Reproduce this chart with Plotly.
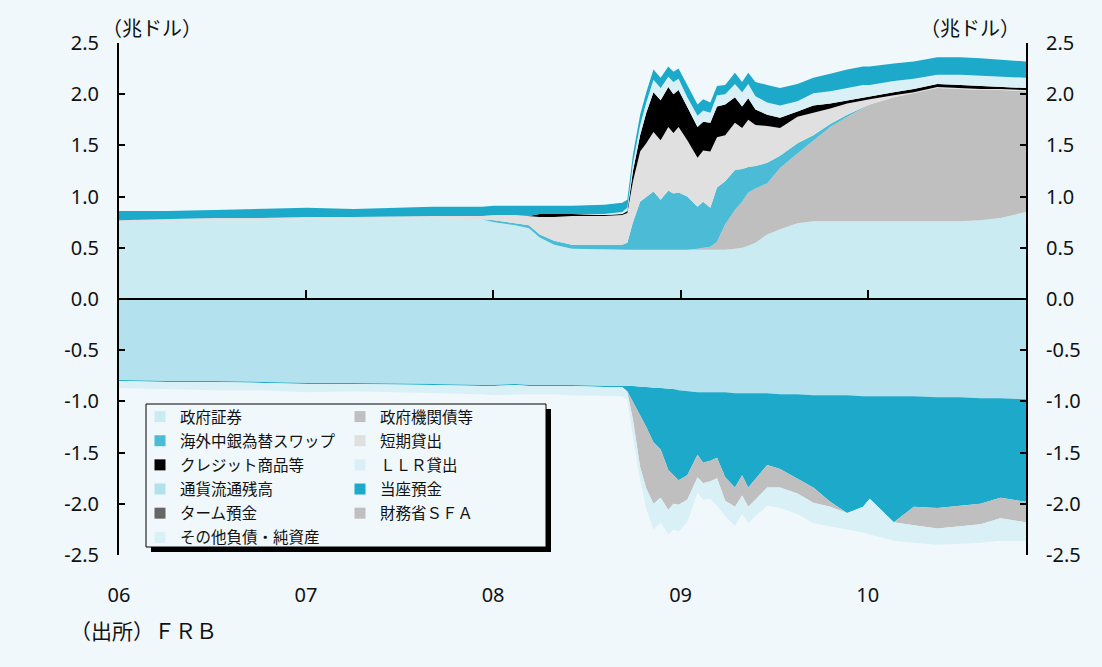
import plotly.graph_objects as go

# ---- data (兆ドル) ----
dates = [
    "2006-01-01", "2006-04-05", "2006-07-05", "2006-10-04", "2007-01-03",
    "2007-04-04", "2007-07-04", "2007-09-05", "2007-12-10", "2008-01-03",
    "2008-02-13", "2008-03-11", "2008-04-01", "2008-04-29", "2008-06-03",
    "2008-08-05", "2008-09-09", "2008-09-19", "2008-09-30", "2008-10-14",
    "2008-10-26", "2008-11-09", "2008-11-23", "2008-12-08", "2008-12-18",
    "2008-12-28", "2009-01-14", "2009-02-03", "2009-02-14", "2009-02-28",
    "2009-03-13", "2009-03-29", "2009-04-17", "2009-05-01", "2009-05-13",
    "2009-05-27", "2009-06-19", "2009-07-14", "2009-08-17", "2009-09-17",
    "2009-10-20", "2009-11-22", "2009-12-23", "2010-01-05", "2010-02-21",
    "2010-04-01", "2010-05-17", "2010-07-01", "2010-08-09", "2010-09-17",
    "2010-11-06",
]

# assets (stacked upward)
gov_securities = [
    .75, .76, .77, .77, .78, .78, .79, .79, .78, .75,
    .72, .69, .60, .53, .49, .48, .48, .48, .48, .48,
    .48, .48, .48, .48, .48, .48, .48, .48, .48, .48,
    .48, .48, .49, .50, .52, .55, .63, .68, .74, .76,
    .76, .76, .76, .76, .76, .76, .76, .76, .77, .79,
    .85,
]
agency_debt = [
    0, 0, 0, 0, 0, 0, 0, 0, 0, 0,
    0, 0, 0, 0, 0, 0, 0, 0, 0, 0,
    0, 0, 0, 0, 0, 0, 0, .01, .02, .03,
    .08, .25, .38, .45, .52, .53, .50, .60, .68, .79,
    .92, 1.02, 1.10, 1.14, 1.21, 1.25, 1.30, 1.29, 1.27, 1.25,
    1.18,
]
cb_swaps = [
    0, 0, 0, 0, 0, 0, 0, 0, 0, .02,
    .02, .03, .03, .04, .04, .05, .05, .07, .27, .47,
    .52, .57, .49, .58, .55, .56, .52, .41, .45, .38,
    .53, .42, .39, .32, .25, .22, .20, .12, .10, .05,
    .03, .02, .01, 0, 0, 0, 0, 0, 0, 0,
    0,
]
short_term_loans = [
    .02, .02, .02, .02, .02, .02, .02, .02, .03, .05,
    .08, .09, .17, .23, .28, .28, .29, .29, .40, .49,
    .52, .58, .58, .62, .59, .64, .55, .48, .50, .55,
    .49, .45, .46, .40, .46, .40, .36, .27, .26, .22,
    .15, .11, .07, .05, .02, .01, .01, .01, .01, .01,
    .01,
]
credit_facilities = [
    0, 0, 0, 0, 0, 0, 0, 0, 0, 0,
    0, 0, .03, .03, .02, .01, .01, .02, .10, .16,
    .30, .39, .39, .39, .38, .36, .32, .30, .28, .28,
    .30, .30, .25, .21, .21, .15, .11, .10, .05, .07,
    .05, .03, .03, .03, .03, .03, .03, .03, .03, .02,
    .02,
]
llr_loans = [
    0, 0, 0, 0, 0, 0, 0, 0, 0, 0,
    0, 0, 0, 0, 0, .01, .02, .03, .08, .10,
    .10, .12, .12, .10, .12, .11, .10, .11, .11, .10,
    .11, .10, .13, .14, .14, .13, .12, .12, .10, .12,
    .12, .12, .12, .11, .11, .10, .09, .10, .10, .10,
    .10,
]
other_assets = [
    .09, .08, .08, .09, .09, .08, .08, .09, .09, .09,
    .09, .10, .08, .08, .08, .09, .09, .08, .08, .10,
    .10, .10, .10, .10, .10, .10, .12, .11, .11, .10,
    .09, .09, .11, .10, .11, .14, .17, .17, .17, .15,
    .17, .18, .18, .18, .17, .17, .17, .17, .17, .17,
    .16,
]

# liabilities (stacked downward)
currency = [
    -.79, -.80, -.80, -.81, -.82, -.82, -.83, -.83, -.84, -.84,
    -.83, -.84, -.84, -.84, -.84, -.85, -.85, -.85, -.85, -.86,
    -.86, -.87, -.87, -.88, -.88, -.89, -.90, -.91, -.91, -.91,
    -.91, -.91, -.92, -.92, -.92, -.92, -.92, -.93, -.93, -.94,
    -.94, -.94, -.95, -.95, -.95, -.95, -.96, -.96, -.97, -.97,
    -.98,
]
reserves = [
    -.01, -.01, -.01, -.01, -.01, -.01, -.01, -.01, -.01, -.01,
    -.01, -.01, -.01, -.01, -.01, -.01, -.01, -.05, -.15, -.27,
    -.39, -.53, -.60, -.79, -.84, -.88, -.82, -.61, -.69, -.67,
    -.64, -.83, -.92, -.80, -.92, -.84, -.70, -.73, -.82, -.90,
    -1.04, -1.15, -1.08, -1.00, -1.23, -1.08, -1.08, -1.06, -1.03, -.97,
    -1.00,
]
term_deposits = [0] * 51
treasury_sfa = [
    0, 0, 0, 0, 0, 0, 0, 0, 0, 0,
    0, 0, 0, 0, 0, 0, 0, -.01, -.18, -.51,
    -.60, -.60, -.47, -.39, -.28, -.24, -.24, -.22, -.20, -.20,
    -.20, -.23, -.19, -.20, -.19, -.20, -.22, -.18, -.15, -.15,
    -.05, 0, 0, 0, 0, -.18, -.20, -.20, -.20, -.20,
    -.20,
]
other_liabilities = [
    -.07, -.07, -.08, -.07, -.08, -.07, -.07, -.08, -.08, -.09,
    -.09, -.08, -.08, -.08, -.09, -.09, -.09, -.07, -.17, -.13,
    -.20, -.25, -.24, -.24, -.25, -.26, -.22, -.15, -.16, -.17,
    -.27, -.15, -.19, -.18, -.16, -.16, -.18, -.20, -.20, -.20,
    -.19, -.16, -.25, -.35, -.18, -.17, -.16, -.17, -.18, -.22,
    -.18,
]

year_ticks = ["2006-01-01", "2007-01-01", "2008-01-01", "2009-01-01", "2010-01-01"]
year_labels = ["06", "07", "08", "09", "10"]
y_ticks = [2.5, 2.0, 1.5, 1.0, 0.5, 0.0, -0.5, -1.0, -1.5, -2.0, -2.5]
y_labels = ["2.5", "2.0", "1.5", "1.0", "0.5", "0.0", "-0.5", "-1.0", "-1.5", "-2.0", "-2.5"]
x_range = ["2006-01-01", "2010-11-06"]

# ---- styling ----
BG = "#f0f8fb"
C_GOV = "#cbebf3"
C_AGENCY = "#bfbfbf"
C_SWAP = "#4bbbd6"
C_SHORT = "#e0e0e0"
C_CREDIT = "#000000"
C_LLR = "#d9f0f6"
C_TEAL = "#1ca9ca"
C_CURRENCY = "#b3e2ee"
C_TERM = "#666666"
C_SFA = "#bfbfbf"
C_OTHER_L = "#d9f0f6"

NUM_FONT = "Noto Sans, Noto Sans CJK JP, sans-serif"
JP_FONT = "Noto Sans CJK JP, Noto Sans, sans-serif"

W, H = 1102, 667
ML, MR, MT, MB = 119, 76, 43, 112
PW, PH = W - ML - MR, H - MT - MB


def paper_x(px):
    return (px - ML) / PW


def paper_y(py):
    return (H - MB - py) / PH


fig = go.Figure()

asset_series = [
    ("政府証券", gov_securities, C_GOV),
    ("政府機関債等", agency_debt, C_AGENCY),
    ("海外中銀為替スワップ", cb_swaps, C_SWAP),
    ("短期貸出", short_term_loans, C_SHORT),
    ("クレジット商品等", credit_facilities, C_CREDIT),
    ("ＬＬＲ貸出", llr_loans, C_LLR),
    ("その他資産", other_assets, C_TEAL),
]
liability_series = [
    ("通貨流通残高", currency, C_CURRENCY),
    ("当座預金", reserves, C_TEAL),
    ("ターム預金", term_deposits, C_TERM),
    ("財務省ＳＦＡ", treasury_sfa, C_SFA),
    ("その他負債・純資産", other_liabilities, C_OTHER_L),
]

for group, series in (("assets", asset_series), ("liabilities", liability_series)):
    for name, vals, color in series:
        fig.add_trace(go.Scatter(
            x=dates, y=vals, name=name, mode="lines",
            stackgroup=group, line=dict(width=0, color=color),
            fillcolor=color, showlegend=False, hoverinfo="skip",
        ))

# legend entries: two columns, square swatches
col1 = [("政府証券", C_GOV), ("海外中銀為替スワップ", C_SWAP), ("クレジット商品等", C_CREDIT),
        ("通貨流通残高", C_CURRENCY), ("ターム預金", C_TERM), ("その他負債・純資産", C_OTHER_L)]
col2 = [("政府機関債等", C_AGENCY), ("短期貸出", C_SHORT), ("ＬＬＲ貸出", C_LLR),
        ("当座預金", C_TEAL), ("財務省ＳＦＡ", C_SFA)]
for legend_id, items in (("legend", col1), ("legend2", col2)):
    for i, (name, color) in enumerate(items):
        fig.add_trace(go.Scatter(
            x=[None], y=[None], mode="markers", name=name,
            marker=dict(symbol="square", size=11, color=color, line=dict(width=0)),
            legend=legend_id, legendgroup=f"{legend_id}_{i}", showlegend=True,
            hoverinfo="skip",
        ))

# carrier for the secondary axes
fig.add_trace(go.Scatter(x=[x_range[0]], y=[0], xaxis="x2", yaxis="y2", mode="markers",
                         marker=dict(opacity=0), showlegend=False, hoverinfo="skip"))

legend_common = dict(
    bgcolor="rgba(0,0,0,0)", borderwidth=0, orientation="v",
    font=dict(family=JP_FONT, size=15.5, color="#111111"),
    traceorder="grouped", tracegroupgap=1, itemwidth=30,
    xanchor="left", yanchor="top", itemclick=False, itemdoubleclick=False,
)

axis_line = dict(showline=True, linecolor="black", linewidth=2, showgrid=False, zeroline=False)

fig.update_layout(
    width=W, height=H,
    margin=dict(l=ML, r=MR, t=MT, b=MB, pad=0),
    paper_bgcolor=BG, plot_bgcolor=BG,
    font=dict(family=NUM_FONT, size=20, color="#111111"),
    showlegend=True,
    legend=dict(legend_common, x=paper_x(140), y=paper_y(400)),
    legend2=dict(legend_common, x=paper_x(340), y=paper_y(400)),
    xaxis=dict(
        type="date", range=x_range, anchor="free", position=0.5,
        tickmode="array", tickvals=year_ticks, showticklabels=False,
        ticks="inside", ticklen=8, tickwidth=2, tickcolor="black",
        **axis_line,
    ),
    xaxis2=dict(
        type="date", range=x_range, overlaying="x", anchor="free", position=0,
        tickmode="array", tickvals=year_ticks, ticktext=year_labels,
        ticks="", showline=False, showgrid=False, zeroline=False,
        ticklabelstandoff=26, tickfont=dict(family=NUM_FONT, size=20),
    ),
    yaxis=dict(
        range=[-2.5, 2.5], tickmode="array", tickvals=y_ticks, ticktext=y_labels,
        ticks="inside", ticklen=6, tickwidth=2, tickcolor="black",
        ticklabelstandoff=14, tickfont=dict(family=NUM_FONT, size=20),
        **axis_line,
    ),
    yaxis2=dict(
        range=[-2.5, 2.5], overlaying="y", side="right", anchor="x",
        tickmode="array", tickvals=y_ticks, ticktext=y_labels,
        ticks="inside", ticklen=6, tickwidth=2, tickcolor="black",
        ticklabelstandoff=14, tickfont=dict(family=NUM_FONT, size=20),
        **axis_line,
    ),
    shapes=[
        # legend drop shadow and frame
        dict(type="rect", xref="paper", yref="paper", layer="above",
             x0=paper_x(151), x1=paper_x(551), y0=paper_y(552), y1=paper_y(409),
             fillcolor="black", line=dict(width=0)),
        dict(type="rect", xref="paper", yref="paper", layer="above",
             x0=paper_x(146), x1=paper_x(546), y0=paper_y(547), y1=paper_y(404),
             fillcolor=BG, line=dict(color="black", width=1)),
    ],
    annotations=[
        dict(text="（兆ドル）", xref="paper", yref="paper", x=paper_x(152), y=paper_y(27),
             xanchor="center", yanchor="middle", showarrow=False,
             font=dict(family=JP_FONT, size=20)),
        dict(text="（兆ドル）", xref="paper", yref="paper", x=paper_x(970), y=paper_y(27),
             xanchor="center", yanchor="middle", showarrow=False,
             font=dict(family=JP_FONT, size=20)),
        dict(text="（出所）ＦＲＢ", xref="paper", yref="paper", x=paper_x(68), y=paper_y(630),
             xanchor="left", yanchor="middle", showarrow=False,
             font=dict(family=JP_FONT, size=21)),
    ],
)

fig.write_html("out.html")
